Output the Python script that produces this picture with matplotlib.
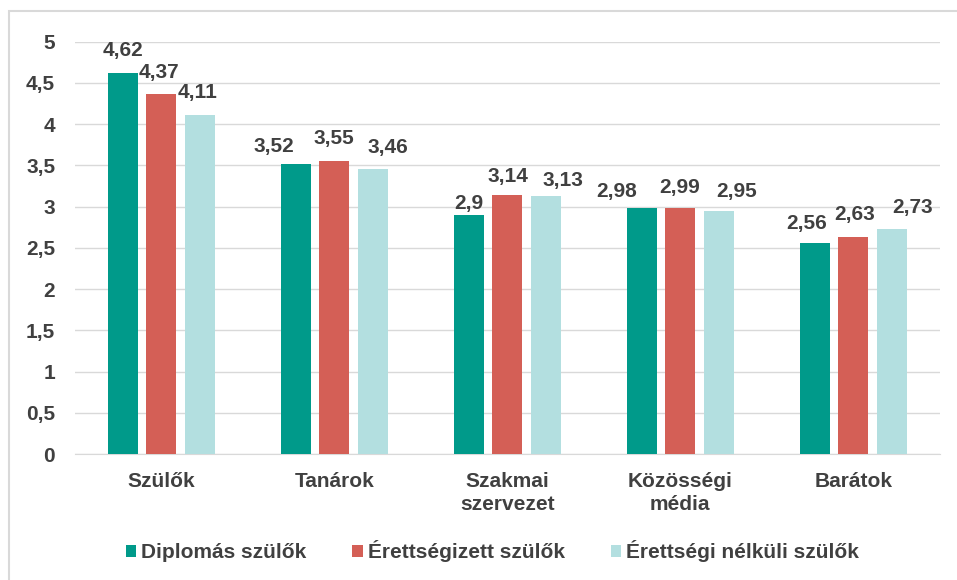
import matplotlib.pyplot as plt
import numpy as np
from matplotlib.patches import Rectangle

plt.rcParams['font.family'] = ['Liberation Sans', 'DejaVu Sans']
plt.rcParams['font.weight'] = 'bold'

categories = ['Szülők', 'Tanárok', 'Szakmai\nszervezet', 'Közösségi\nmédia', 'Barátok']
series = ['Diplomás szülők', 'Érettségizett szülők', 'Érettségi nélküli szülők']
diplomas = [4.62, 3.52, 2.90, 2.98, 2.56]
erettsegizett = [4.37, 3.55, 3.14, 2.99, 2.63]
nelkuli = [4.11, 3.46, 3.13, 2.95, 2.73]
labels = [['4,62', '3,52', '2,9', '2,98', '2,56'],
          ['4,37', '3,55', '3,14', '2,99', '2,63'],
          ['4,11', '3,46', '3,13', '2,95', '2,73']]
yticks = [0, 0.5, 1, 1.5, 2, 2.5, 3, 3.5, 4, 4.5, 5]
ytick_labels = ['0', '0,5', '1', '1,5', '2', '2,5', '3', '3,5', '4', '4,5', '5']

# label nudges (pixels): horizontal shift and gap above bar top
label_dx = [[0, -22, 0, -25, -8],
            [-2, 0, 1, -1, 1],
            [-2, 15, 17, 18, 21]]
label_gap = [[17, 12, 6, 11, 14],
             [16, 17, 13, 15, 17],
             [17, 16, 10, 14, 16]]

colors = ['#009a8a', '#d45f56', '#b3dfe0']
txt = '#404040'
fs = 15
px = 72 / 100

fig = plt.figure(figsize=(9.57, 5.8), dpi=100)
# chart frame: only top and left edges fall inside the image
fig.patches.append(Rectangle((9 / 957, -0.05), 1.1, 1.05 - 11 / 580, transform=fig.transFigure,
                             fill=False, edgecolor='#d9d9d9', linewidth=1.5))
ax = fig.add_axes([0.078, 0.217, 0.904, 0.711])

x = np.arange(len(categories))
w = 0.173
offs = [-0.222, 0, 0.222]
for i, vals in enumerate([diplomas, erettsegizett, nelkuli]):
    bars = ax.bar(x + offs[i], vals, w, color=colors[i], label=series[i], zorder=3)
    for j, (b, lab) in enumerate(zip(bars, labels[i])):
        ax.annotate(lab, (b.get_x() + b.get_width() / 2, b.get_height()),
                    xytext=(label_dx[i][j] * px, label_gap[i][j] * px),
                    textcoords='offset points', ha='center', va='baseline',
                    fontsize=fs, color=txt, fontweight='bold')

ax.set_xlim(-0.5, len(categories) - 0.5)
ax.set_ylim(0, 5)
ax.set_yticks(yticks)
ax.set_yticklabels(ytick_labels)
ax.set_xticks(x)
ax.set_xticklabels(categories, linespacing=1.25)
ax.tick_params(axis='both', length=0, labelsize=fs, labelcolor=txt)
ax.tick_params(axis='y', pad=14)
ax.tick_params(axis='x', pad=13)
ax.grid(axis='y', color='#d9d9d9', linewidth=1, zorder=0)
for s in ['top', 'right', 'left']:
    ax.spines[s].set_visible(False)
ax.spines['bottom'].set_color('#d9d9d9')

leg = ax.legend(loc='center', bbox_to_anchor=(0.483, -0.235), ncol=3, frameon=False,
                fontsize=fs, handlelength=0.5, handleheight=0.5, handletextpad=0.25,
                columnspacing=2.2)
for t in leg.get_texts():
    t.set_color(txt)

fig.savefig('out.png', dpi=100)
